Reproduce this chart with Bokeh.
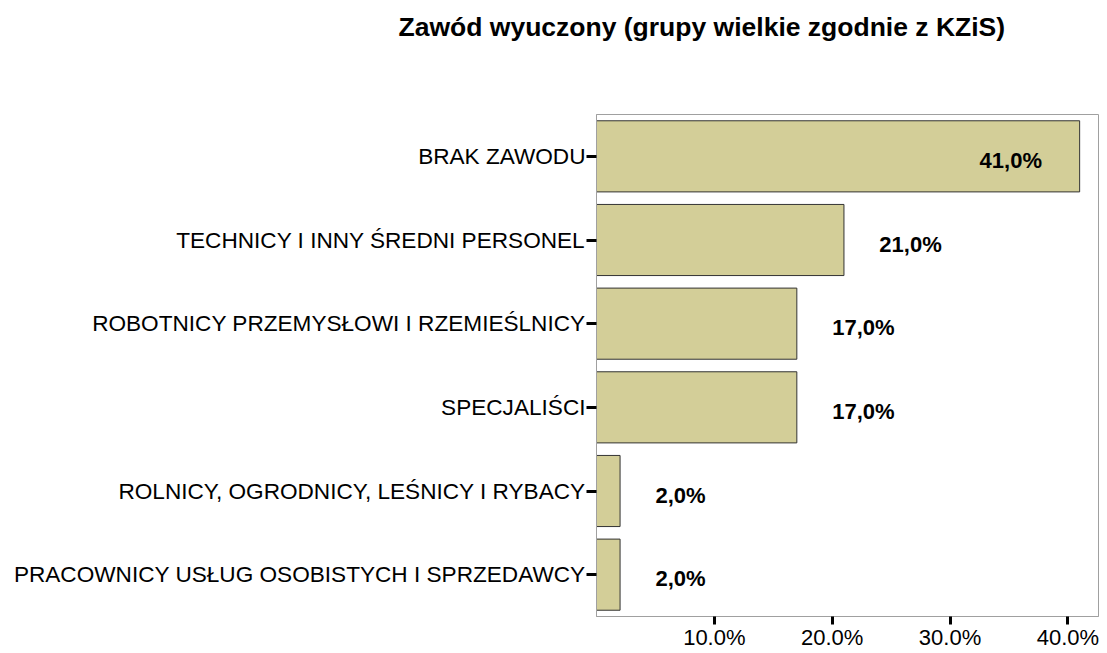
from bokeh.plotting import figure
from bokeh.models import FactorRange, Range1d, FixedTicker, PrintfTickFormatter, ColumnDataSource, Title
from bokeh.core.properties import value
from bokeh.embed import file_html
from bokeh.resources import INLINE

title_text = "Zawód wyuczony (grupy wielkie zgodnie z KZiS)"
categories = [
    "BRAK ZAWODU",
    "TECHNICY I INNY ŚREDNI PERSONEL",
    "ROBOTNICY PRZEMYSŁOWI I RZEMIEŚLNICY",
    "SPECJALIŚCI",
    "ROLNICY, OGRODNICY, LEŚNICY I RYBACY",
    "PRACOWNICY USŁUG OSOBISTYCH I SPRZEDAWCY",
]
percents = [41.0, 21.0, 17.0, 17.0, 2.0, 2.0]
x_ticks = [10, 20, 30, 40]

FONT = "Liberation Sans"
BAR = "#d3ce98"

vmax = max(percents)
label_x = [v - 3.2 if v == vmax else v + 3.0 for v in percents]
label_align = ["right" if v == vmax else "left" for v in percents]
labels = [f"{v:.1f}%".replace(".", ",") for v in percents]

src = ColumnDataSource(dict(cat=categories, val=percents, lx=label_x,
                            la=label_align, lab=labels))

p = figure(width=1103, height=652, output_backend="svg", toolbar_location=None,
           title=None,
           y_range=FactorRange(factors=list(reversed(categories))),
           x_range=Range1d(0, 42.6),
           min_border_left=596, min_border_right=5, min_border_top=0,
           min_border_bottom=0)

# spacer between title and plot frame (added first -> closest to the frame)
p.add_layout(Title(text=" ", text_font_size="1px", standoff=61), "above")
p.add_layout(Title(text=title_text, align="left", offset=-198, standoff=18,
                   text_font=FONT, text_font_size="26.5px", text_font_style="bold",
                   text_color="black"), "above")

p.hbar(y="cat", right="val", left=0, height=0.85, source=src,
       fill_color=BAR, line_color="#333333", line_width=1)

p.text(x="lx", y="cat", text="lab", source=src, text_align="la",
       text_baseline="middle", y_offset=4,
       text_font=value(FONT), text_font_size="22px", text_font_style="bold",
       text_color="black")

p.xgrid.visible = False
p.ygrid.visible = False
p.outline_line_color = "#a0a0a0"
p.outline_line_width = 1
p.background_fill_color = "white"
p.border_fill_color = "white"

xa = p.xaxis[0]
xa.ticker = FixedTicker(ticks=x_ticks, minor_ticks=[])
xa.formatter = PrintfTickFormatter(format="%.1f%%")
xa.axis_line_color = "#a0a0a0"
xa.major_tick_line_color = "black"
xa.major_tick_line_width = 3
xa.major_tick_out = 8
xa.major_tick_in = 0
xa.minor_tick_line_color = None
xa.major_label_standoff = 0
xa.major_label_text_font = FONT
xa.major_label_text_font_size = "22px"
xa.major_label_text_color = "black"

ya = p.yaxis[0]
ya.axis_line_color = "#a0a0a0"
ya.major_tick_line_color = "black"
ya.major_tick_line_width = 3
ya.major_tick_out = 10
ya.major_tick_in = 0
ya.major_label_standoff = 1
ya.major_label_text_font = FONT
ya.major_label_text_font_size = "22.6px"
ya.major_label_text_color = "black"

open("out.html", "w").write(file_html(p, INLINE))
